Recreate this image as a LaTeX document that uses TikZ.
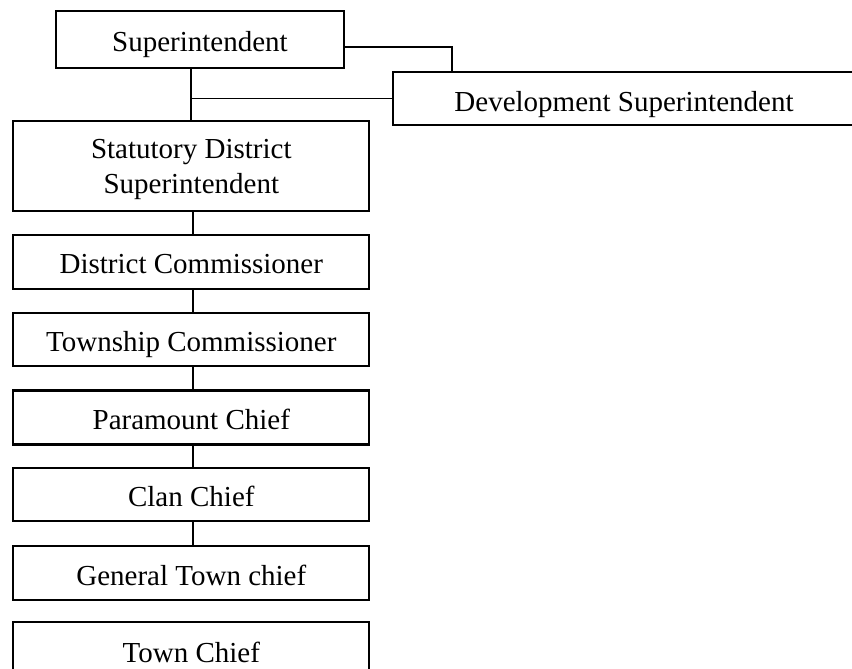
\documentclass[tikz,border=0pt]{standalone}
\usepackage{fontspec}
\setmainfont{Liberation Serif}
\begin{document}
\begin{tikzpicture}[x=1pt,y=-1pt,
  orgbox/.style={draw, line width=2.2pt, inner sep=0pt, align=center,
    text height=24pt, text depth=0pt,
    font=\fontsize{29}{35}\selectfont},
  orgtext/.style={inner sep=0pt, align=center, font=\fontsize{29}{35}\selectfont},
  link/.style={line width=1.8pt}]
\useasboundingbox (0,0) rectangle (852,669);

% top level
\node[orgbox, minimum width=288pt, minimum height=57pt] (sup) at (200,39.5) {Superintendent};
\node[orgbox, minimum width=462pt, minimum height=53pt, text height=26pt] (dev) at (624,98.5) {Development Superintendent};

% main chain
\node[draw, line width=2.2pt, minimum width=356pt, minimum height=90pt] (stat) at (191.3,166) {};
\node[orgtext, yshift=-3pt] (stattext) at (stat.center) {Statutory District\\Superintendent};
\node[orgbox, minimum width=356pt, minimum height=54pt] (dist) at (191.3,261.7) {District Commissioner};
\node[orgbox, minimum width=356pt, minimum height=53pt] (town) at (191.3,339.3) {Township Commissioner};
\node[orgbox, minimum width=356pt, minimum height=54pt] (para) at (191.3,417.5) {Paramount Chief};
\node[orgbox, minimum width=356pt, minimum height=53pt] (clan) at (191.3,494.3) {Clan Chief};
\node[orgbox, minimum width=356pt, minimum height=54pt] (gen) at (191.3,573) {General Town chief};
\node[orgbox, minimum width=356pt, minimum height=56pt] (tc) at (191.3,650) {Town Chief};

% connectors
\draw[link] ([yshift=-7.5pt]sup.east) -| ([xshift=60pt]dev.north west);
\draw[link] (stat.north) -- (stat.north |- sup.south);
\draw[link] (stat.north |- dev.west) -- (dev.west);
\draw[link] ([xshift=1.5pt]stat.south) -- ([xshift=1.5pt]dist.north);
\draw[link] ([xshift=1.5pt]dist.south) -- ([xshift=1.5pt]town.north);
\draw[link] ([xshift=1.5pt]town.south) -- ([xshift=1.5pt]para.north);
\draw[link] ([xshift=1.5pt]para.south) -- ([xshift=1.5pt]clan.north);
\draw[link] ([xshift=1.5pt]clan.south) -- ([xshift=1.5pt]gen.north);
\end{tikzpicture}
\end{document}
